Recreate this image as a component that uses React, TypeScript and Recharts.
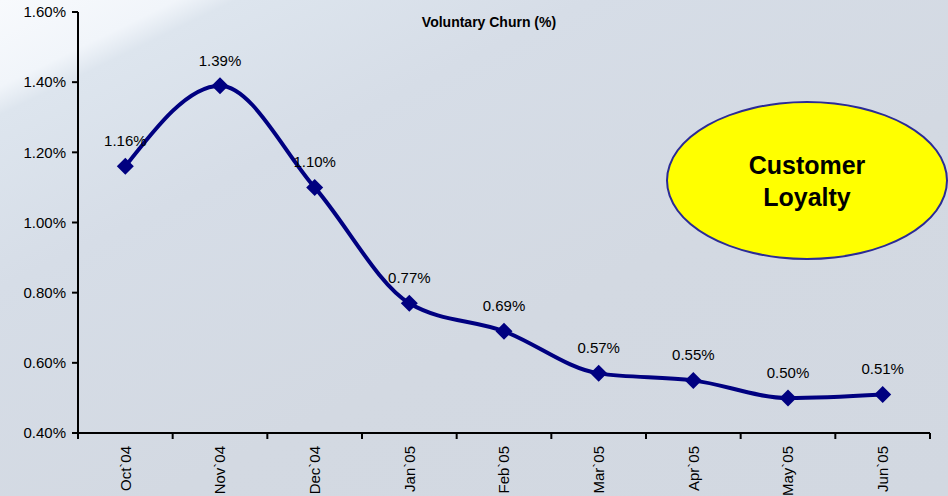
import { LineChart, Line, XAxis, YAxis, LabelList } from "recharts";

const months = ["Oct`04", "Nov`04", "Dec`04", "Jan`05", "Feb`05", "Mar`05", "Apr`05", "May`05", "Jun`05"];
const churn = [1.16, 1.39, 1.1, 0.77, 0.69, 0.57, 0.55, 0.5, 0.51];
const yTicks = [0.4, 0.6, 0.8, 1.0, 1.2, 1.4, 1.6];

const W = 948;
const H = 496;
const M = { top: 12, right: 18, bottom: 0, left: 0 };
const Y_W = 78;
const PLOT_W = W - M.left - M.right - Y_W;
const HALF = PLOT_W / months.length / 2;
const FONT = "'Liberation Sans', Arial, sans-serif";

const data = months.map((m, i) => ({ pos: i + 0.5, month: m, churn: churn[i] }));
const boundaries = months.map((_, i) => i).concat(months.length);

const pct = (v: number) => v.toFixed(2) + "%";

function MonthTick(props: any) {
    const { x, y, payload } = props;
    const label = months[payload.value];
    if (!label) return null;
    const cx = x + HALF;
    const ty = y + 5;
    return (
        <text x={cx} y={ty} dy="0.35em" textAnchor="end" fontSize={15} fill="#000"
            fontFamily={FONT} transform={`rotate(-90, ${cx}, ${ty})`}>
            {label}
        </text>
    );
}

function Diamond(props: any) {
    const { cx, cy } = props;
    const r = 8.5;
    return <path d={`M${cx},${cy - r}L${cx + r},${cy}L${cx},${cy + r}L${cx - r},${cy}Z`} fill="#000080" />;
}

export default function App() {
    return (
        <div style={{
            position: "absolute", left: 0, top: 0, width: W, height: H, fontFamily: FONT,
            background: "linear-gradient(154deg, #f8fafd 0%, #f1f5fa 9%, #dde5ee 12%, #d6dde7 30%, #d3d9e2 60%, #d2d8e1 100%)",
        }}>
            <div style={{ position: "absolute", left: 0, top: 14, width: 978, textAlign: "center",
                fontWeight: "bold", fontSize: 14, color: "#000" }}>
                Voluntary Churn (%)
            </div>
            <div style={{
                position: "absolute", left: 666, top: 101, width: 282, height: 159, borderRadius: "50%",
                background: "#ffff00", border: "2px solid #2b2b96", boxSizing: "border-box",
                display: "flex", flexDirection: "column", alignItems: "center", justifyContent: "center",
                fontWeight: "bold", fontSize: 25, lineHeight: "32px", color: "#000",
            }}>
                <div>Customer</div>
                <div>Loyalty</div>
            </div>
            <div style={{ position: "absolute", left: 0, top: 0 }}>
                <LineChart width={W} height={H} data={data} margin={M}>
                    <XAxis dataKey="pos" type="number" domain={[0, months.length]} ticks={boundaries}
                        allowDataOverflow interval={0} height={63} tick={<MonthTick />}
                        stroke="#000" strokeWidth={2} tickSize={6} />
                    <YAxis type="number" domain={[0.4, 1.6]} ticks={yTicks} width={Y_W} interval={0}
                        tickFormatter={pct} stroke="#000" strokeWidth={2} tickSize={6} tickMargin={6}
                        tick={{ fill: "#000", fontSize: 15, fontFamily: FONT }} />
                    <Line isAnimationActive={false} type="monotone" dataKey="churn" stroke="#000080"
                        strokeWidth={4} dot={<Diamond />} activeDot={false}>
                        <LabelList dataKey="churn" position="top" offset={20} formatter={(v: any) => pct(Number(v))}
                            fill="#000" fontSize={15} fontFamily={FONT} />
                    </Line>
                </LineChart>
            </div>
        </div>
    );
}
